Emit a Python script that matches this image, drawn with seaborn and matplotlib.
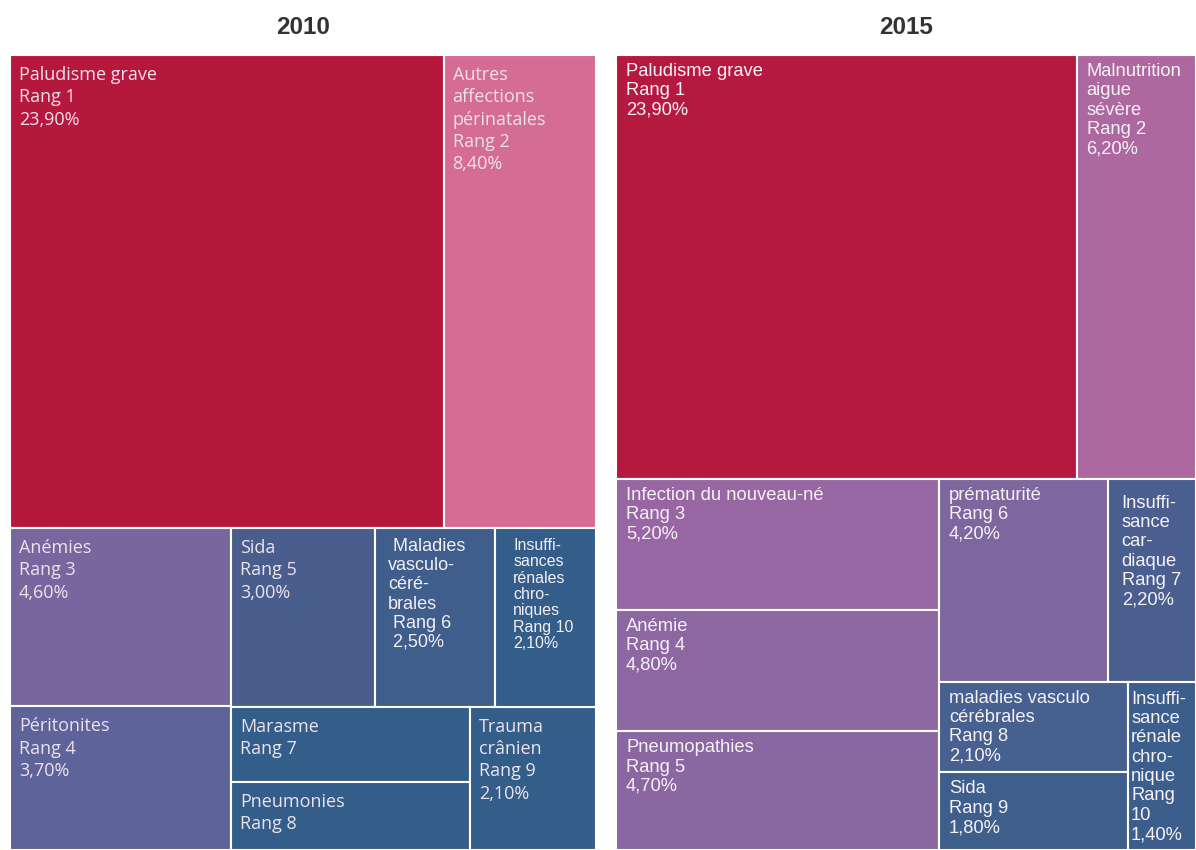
import matplotlib
matplotlib.use("Agg")
import matplotlib.pyplot as plt
from matplotlib.patches import Rectangle
import seaborn as sns

# ---- données 2010 ----
noms_2010 = ["Paludisme grave", "Autres\naffections\npérinatales", "Anémies", "Péritonites",
             "Sida", " Maladies\nvasculo-\ncéré-\nbrales", "Marasme", "Pneumonies",
             "Trauma\ncrânien", "Insuffi-\nsances\nrénales\nchro-\nniques"]
rangs_2010 = [1, 2, 3, 4, 5, 6, 7, 8, 9, 10]
pct_2010 = [23.9, 8.4, 4.6, 3.7, 3.0, 2.5, None, None, 2.1, 2.1]
# Marasme / Pneumonies : pas de % affiché, poids estimés d'après la surface
poids_2010 = [23.9, 8.4, 4.6, 3.7, 3.0, 2.5, 2.1, 1.9, 2.1, 2.1]

# ---- données 2015 ----
noms_2015 = ["Paludisme grave", "Malnutrition\naigue\nsévère", "Infection du nouveau-né",
             "Anémie", "Pneumopathies", "prématurité", "Insuffi-\nsance\ncar-\ndiaque",
             "maladies vasculo\ncérébrales", "Sida", "Insuffi-\nsance\nrénale\nchro-\nnique"]
rangs_2015 = [1, 2, 3, 4, 5, 6, 7, 8, 9, 10]
pct_2015 = [23.9, 6.2, 5.2, 4.8, 4.7, 4.2, 2.2, 2.1, 1.8, 1.4]

# découpage du treemap (v = empilé, h = côte à côte), feuilles = index
arbre_2010 = ("v", [("h", [0, 1]),
                    ("h", [("v", [2, 3]),
                           ("v", [("h", [4, 5, 9]), ("h", [("v", [6, 7]), 8])])])])
arbre_2015 = ("v", [("h", [0, 1]),
                    ("h", [("v", [2, 3, 4]),
                           ("v", [("h", [5, 6]), ("h", [("v", [7, 8]), 9])])])])

couleurs_2010 = ["#b5173d", "#d56c93", "#76679f", "#5e6399", "#4a5e8e", "#3f5e8c",
                 "#345e8a", "#345e8a", "#345e8a", "#345e8a"]
couleurs_2015 = ["#b6193f", "#ad689f", "#9867a3", "#8c67a1", "#8b67a1", "#7e679f",
                 "#4a5f8f", "#466090", "#3e5e8c", "#3b5e8c"]


def poids(noeud, w):
    if isinstance(noeud, int):
        return w[noeud]
    return sum(poids(n, w) for n in noeud[1])


def placer(noeud, x, y, larg, haut, w, out):
    # y = bord haut
    if isinstance(noeud, int):
        out[noeud] = (x, y - haut, larg, haut)
        return
    sens, enfants = noeud
    total = poids(noeud, w)
    for n in enfants:
        part = poids(n, w) / total
        if sens == "h":
            placer(n, x, y, larg * part, haut, w, out)
            x += larg * part
        else:
            placer(n, x, y, larg, haut * part, w, out)
            y -= haut * part


def fmt(p):
    return f"{p:.2f}".replace(".", ",") + "%"


sns.set_theme(style="white")
plt.rcParams["font.family"] = ["Liberation Sans", "DejaVu Sans"]

fig = plt.figure(figsize=(11.96, 8.5), dpi=100)
W, H = 1196, 850
ax1 = fig.add_axes([10 / W, 0, 586 / W, 795 / H])
ax2 = fig.add_axes([616 / W, 0, 580 / W, 795 / H])

# --- 2010 ---
rects = {}
placer(arbre_2010, 0, 1, 1, 1, poids_2010, rects)
for i, nom in enumerate(noms_2010):
    x, y, w, h = rects[i]
    ax1.add_patch(Rectangle((x, y), w, h, facecolor=couleurs_2010[i],
                            edgecolor="white", lw=1.5))
    esp = " " if nom.startswith(" ") else ""
    lignes = [nom, f"{esp}Rang {rangs_2010[i]}"]
    if pct_2010[i] is not None:
        lignes.append(esp + fmt(pct_2010[i]))
    txt = "\n".join(lignes)
    if i == 9:
        ax1.annotate(txt, (x, y + h), xytext=(18, -10), textcoords="offset pixels",
                     va="top", ha="left", fontsize=11.5, color="#f3eef3",
                     linespacing=1.11, family=["Liberation Sans"])
    elif i == 5:
        ax1.annotate(txt, (x, y + h), xytext=(13, -10), textcoords="offset pixels",
                     va="top", ha="left", fontsize=13, color="#f3eef3",
                     linespacing=1.17, family=["Liberation Sans"])
    else:
        ax1.annotate(txt, (x, y + h), xytext=(9, -11), textcoords="offset pixels",
                     va="top", ha="left", fontsize=13, color="#ede2ec",
                     linespacing=1.31, family=["Open Sans"])

# --- 2015 ---
rects = {}
placer(arbre_2015, 0, 1, 1, 1, pct_2015, rects)
decal = {6: (14, -16), 9: (3, -9)}
for i, nom in enumerate(noms_2015):
    x, y, w, h = rects[i]
    ax2.add_patch(Rectangle((x, y), w, h, facecolor=couleurs_2015[i],
                            edgecolor="white", lw=1.5))
    sep = "\n" if i == 9 else " "
    txt = f"{nom}\nRang{sep}{rangs_2015[i]}\n{fmt(pct_2015[i])}"
    ax2.annotate(txt, (x, y + h), xytext=decal.get(i, (10, -8)),
                 textcoords="offset pixels", va="top", ha="left", fontsize=13.2,
                 color="#f6f1f6", linespacing=1.18)

for ax, an in [(ax1, "2010"), (ax2, "2015")]:
    ax.set_xlim(0, 1)
    ax.set_ylim(0, 1)
    ax.set_axis_off()
    ax.text(0.5, 1 + 28 / 795, an, transform=ax.transAxes, ha="center", va="center",
            fontsize=17.5, fontweight="bold", color="#333333")

fig.savefig("out.png", dpi=100)
